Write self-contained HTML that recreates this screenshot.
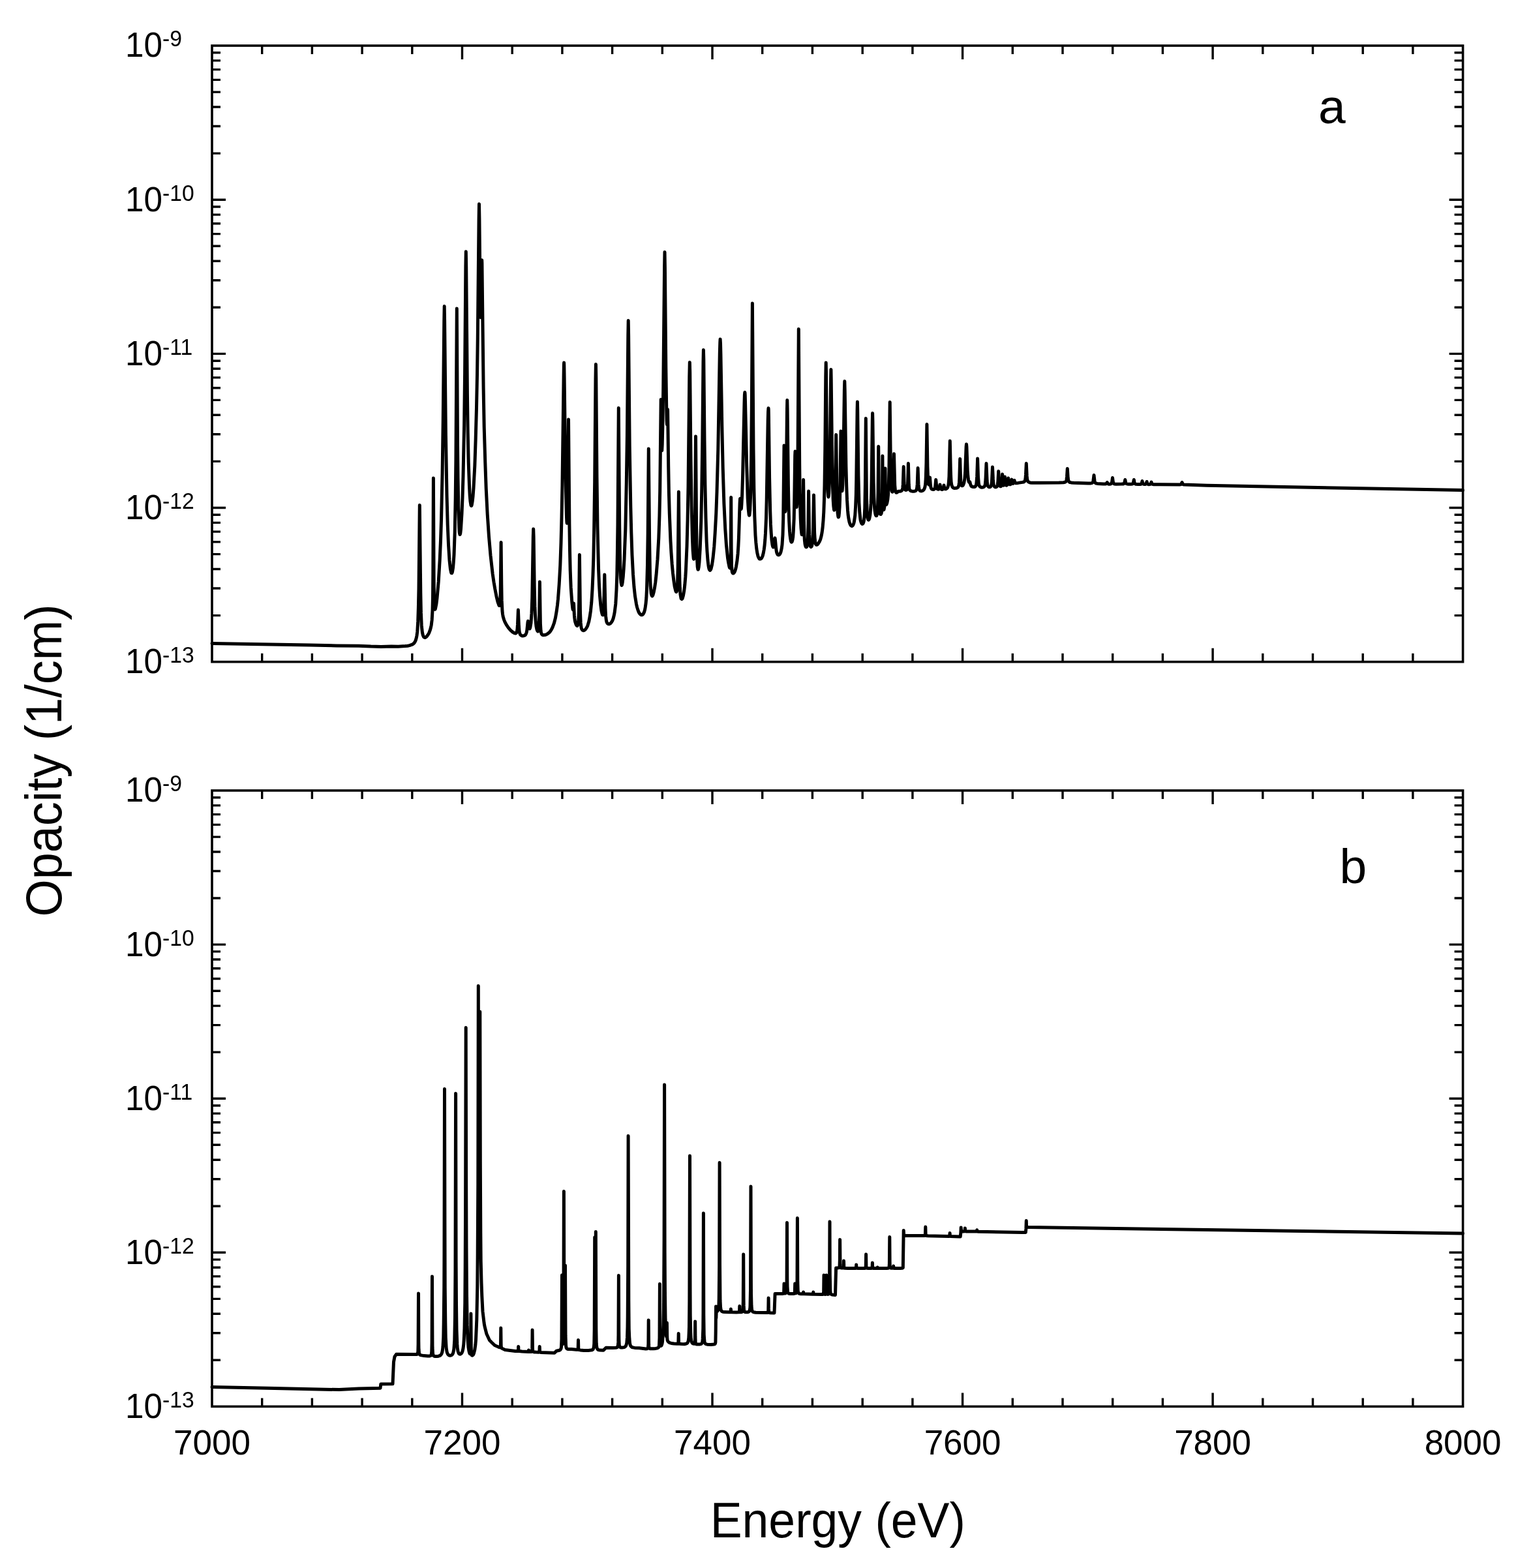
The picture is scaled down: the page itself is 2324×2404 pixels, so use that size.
<!DOCTYPE html><html><head><meta charset="utf-8"><style>html,body{margin:0;padding:0;background:#fff;}svg{display:block;}</style></head><body><svg width="2324" height="2404" viewBox="0 0 2324 2404">
<rect width="2324" height="2404" fill="#fff"/>
<path d="M325.0 943.6h13.0M2242.6 943.6h-13.0M325.0 902.0h13.0M2242.6 902.0h-13.0M325.0 872.5h13.0M2242.6 872.5h-13.0M325.0 849.6h13.0M2242.6 849.6h-13.0M325.0 830.9h13.0M2242.6 830.9h-13.0M325.0 815.1h13.0M2242.6 815.1h-13.0M325.0 801.4h13.0M2242.6 801.4h-13.0M325.0 789.3h13.0M2242.6 789.3h-13.0M325.0 778.5h21.0M2242.6 778.5h-21.0M325.0 707.4h13.0M2242.6 707.4h-13.0M325.0 665.8h13.0M2242.6 665.8h-13.0M325.0 636.3h13.0M2242.6 636.3h-13.0M325.0 613.4h13.0M2242.6 613.4h-13.0M325.0 594.7h13.0M2242.6 594.7h-13.0M325.0 578.9h13.0M2242.6 578.9h-13.0M325.0 565.2h13.0M2242.6 565.2h-13.0M325.0 553.2h13.0M2242.6 553.2h-13.0M325.0 542.4h21.0M2242.6 542.4h-21.0M325.0 471.3h13.0M2242.6 471.3h-13.0M325.0 429.7h13.0M2242.6 429.7h-13.0M325.0 400.2h13.0M2242.6 400.2h-13.0M325.0 377.3h13.0M2242.6 377.3h-13.0M325.0 358.6h13.0M2242.6 358.6h-13.0M325.0 342.8h13.0M2242.6 342.8h-13.0M325.0 329.1h13.0M2242.6 329.1h-13.0M325.0 317.0h13.0M2242.6 317.0h-13.0M325.0 306.2h21.0M2242.6 306.2h-21.0M325.0 235.1h13.0M2242.6 235.1h-13.0M325.0 193.5h13.0M2242.6 193.5h-13.0M325.0 164.0h13.0M2242.6 164.0h-13.0M325.0 141.1h13.0M2242.6 141.1h-13.0M325.0 122.4h13.0M2242.6 122.4h-13.0M325.0 106.6h13.0M2242.6 106.6h-13.0M325.0 92.9h13.0M2242.6 92.9h-13.0M325.0 80.8h13.0M2242.6 80.8h-13.0M401.7 1014.7v-13.0M401.7 70.0v13.0M478.4 1014.7v-13.0M478.4 70.0v13.0M555.1 1014.7v-13.0M555.1 70.0v13.0M631.8 1014.7v-13.0M631.8 70.0v13.0M708.5 1014.7v-21.0M708.5 70.0v21.0M785.2 1014.7v-13.0M785.2 70.0v13.0M861.9 1014.7v-13.0M861.9 70.0v13.0M938.6 1014.7v-13.0M938.6 70.0v13.0M1015.3 1014.7v-13.0M1015.3 70.0v13.0M1092.0 1014.7v-21.0M1092.0 70.0v21.0M1168.7 1014.7v-13.0M1168.7 70.0v13.0M1245.4 1014.7v-13.0M1245.4 70.0v13.0M1322.2 1014.7v-13.0M1322.2 70.0v13.0M1398.9 1014.7v-13.0M1398.9 70.0v13.0M1475.6 1014.7v-21.0M1475.6 70.0v21.0M1552.3 1014.7v-13.0M1552.3 70.0v13.0M1629.0 1014.7v-13.0M1629.0 70.0v13.0M1705.7 1014.7v-13.0M1705.7 70.0v13.0M1782.4 1014.7v-13.0M1782.4 70.0v13.0M1859.1 1014.7v-21.0M1859.1 70.0v21.0M1935.8 1014.7v-13.0M1935.8 70.0v13.0M2012.5 1014.7v-13.0M2012.5 70.0v13.0M2089.2 1014.7v-13.0M2089.2 70.0v13.0M2165.9 1014.7v-13.0M2165.9 70.0v13.0" stroke="#000" stroke-width="3.4" fill="none" stroke-linecap="butt"/>
<rect x="325.0" y="70.0" width="1917.6" height="944.7" fill="none" stroke="#000" stroke-width="3.6"/>
<text transform="translate(192 1032.1) scale(0.95 1)" font-size="54" font-family='"Liberation Sans", Arial, Helvetica, sans-serif'>10<tspan dy="-16" font-size="35.5">-13</tspan></text>
<text transform="translate(192 795.9) scale(0.95 1)" font-size="54" font-family='"Liberation Sans", Arial, Helvetica, sans-serif'>10<tspan dy="-16" font-size="35.5">-12</tspan></text>
<text transform="translate(192 559.8) scale(0.95 1)" font-size="54" font-family='"Liberation Sans", Arial, Helvetica, sans-serif'>10<tspan dy="-16" font-size="35.5">-11</tspan></text>
<text transform="translate(192 323.6) scale(0.95 1)" font-size="54" font-family='"Liberation Sans", Arial, Helvetica, sans-serif'>10<tspan dy="-16" font-size="35.5">-10</tspan></text>
<text transform="translate(192 87.4) scale(0.95 1)" font-size="54" font-family='"Liberation Sans", Arial, Helvetica, sans-serif'>10<tspan dy="-16" font-size="35.5">-9</tspan></text>
<text x="2021" y="189" font-size="75" font-family='"Liberation Sans", Arial, Helvetica, sans-serif'>a</text>
<path d="M325.0 2085.3h13.0M2242.6 2085.3h-13.0M325.0 2043.8h13.0M2242.6 2043.8h-13.0M325.0 2014.3h13.0M2242.6 2014.3h-13.0M325.0 1991.4h13.0M2242.6 1991.4h-13.0M325.0 1972.7h13.0M2242.6 1972.7h-13.0M325.0 1956.9h13.0M2242.6 1956.9h-13.0M325.0 1943.2h13.0M2242.6 1943.2h-13.0M325.0 1931.1h13.0M2242.6 1931.1h-13.0M325.0 1920.3h21.0M2242.6 1920.3h-21.0M325.0 1849.2h13.0M2242.6 1849.2h-13.0M325.0 1807.7h13.0M2242.6 1807.7h-13.0M325.0 1778.2h13.0M2242.6 1778.2h-13.0M325.0 1755.3h13.0M2242.6 1755.3h-13.0M325.0 1736.6h13.0M2242.6 1736.6h-13.0M325.0 1720.8h13.0M2242.6 1720.8h-13.0M325.0 1707.1h13.0M2242.6 1707.1h-13.0M325.0 1695.0h13.0M2242.6 1695.0h-13.0M325.0 1684.2h21.0M2242.6 1684.2h-21.0M325.0 1613.1h13.0M2242.6 1613.1h-13.0M325.0 1571.6h13.0M2242.6 1571.6h-13.0M325.0 1542.1h13.0M2242.6 1542.1h-13.0M325.0 1519.2h13.0M2242.6 1519.2h-13.0M325.0 1500.5h13.0M2242.6 1500.5h-13.0M325.0 1484.7h13.0M2242.6 1484.7h-13.0M325.0 1471.0h13.0M2242.6 1471.0h-13.0M325.0 1458.9h13.0M2242.6 1458.9h-13.0M325.0 1448.1h21.0M2242.6 1448.1h-21.0M325.0 1377.0h13.0M2242.6 1377.0h-13.0M325.0 1335.5h13.0M2242.6 1335.5h-13.0M325.0 1306.0h13.0M2242.6 1306.0h-13.0M325.0 1283.1h13.0M2242.6 1283.1h-13.0M325.0 1264.4h13.0M2242.6 1264.4h-13.0M325.0 1248.6h13.0M2242.6 1248.6h-13.0M325.0 1234.9h13.0M2242.6 1234.9h-13.0M325.0 1222.8h13.0M2242.6 1222.8h-13.0M401.7 2156.4v-13.0M401.7 1212.0v13.0M478.4 2156.4v-13.0M478.4 1212.0v13.0M555.1 2156.4v-13.0M555.1 1212.0v13.0M631.8 2156.4v-13.0M631.8 1212.0v13.0M708.5 2156.4v-21.0M708.5 1212.0v21.0M785.2 2156.4v-13.0M785.2 1212.0v13.0M861.9 2156.4v-13.0M861.9 1212.0v13.0M938.6 2156.4v-13.0M938.6 1212.0v13.0M1015.3 2156.4v-13.0M1015.3 1212.0v13.0M1092.0 2156.4v-21.0M1092.0 1212.0v21.0M1168.7 2156.4v-13.0M1168.7 1212.0v13.0M1245.4 2156.4v-13.0M1245.4 1212.0v13.0M1322.2 2156.4v-13.0M1322.2 1212.0v13.0M1398.9 2156.4v-13.0M1398.9 1212.0v13.0M1475.6 2156.4v-21.0M1475.6 1212.0v21.0M1552.3 2156.4v-13.0M1552.3 1212.0v13.0M1629.0 2156.4v-13.0M1629.0 1212.0v13.0M1705.7 2156.4v-13.0M1705.7 1212.0v13.0M1782.4 2156.4v-13.0M1782.4 1212.0v13.0M1859.1 2156.4v-21.0M1859.1 1212.0v21.0M1935.8 2156.4v-13.0M1935.8 1212.0v13.0M2012.5 2156.4v-13.0M2012.5 1212.0v13.0M2089.2 2156.4v-13.0M2089.2 1212.0v13.0M2165.9 2156.4v-13.0M2165.9 1212.0v13.0" stroke="#000" stroke-width="3.4" fill="none" stroke-linecap="butt"/>
<rect x="325.0" y="1212.0" width="1917.6" height="944.4" fill="none" stroke="#000" stroke-width="3.6"/>
<text transform="translate(192 2173.8) scale(0.95 1)" font-size="54" font-family='"Liberation Sans", Arial, Helvetica, sans-serif'>10<tspan dy="-16" font-size="35.5">-13</tspan></text>
<text transform="translate(192 1937.7) scale(0.95 1)" font-size="54" font-family='"Liberation Sans", Arial, Helvetica, sans-serif'>10<tspan dy="-16" font-size="35.5">-12</tspan></text>
<text transform="translate(192 1701.6) scale(0.95 1)" font-size="54" font-family='"Liberation Sans", Arial, Helvetica, sans-serif'>10<tspan dy="-16" font-size="35.5">-11</tspan></text>
<text transform="translate(192 1465.5) scale(0.95 1)" font-size="54" font-family='"Liberation Sans", Arial, Helvetica, sans-serif'>10<tspan dy="-16" font-size="35.5">-10</tspan></text>
<text transform="translate(192 1229.4) scale(0.95 1)" font-size="54" font-family='"Liberation Sans", Arial, Helvetica, sans-serif'>10<tspan dy="-16" font-size="35.5">-9</tspan></text>
<text x="2053.5" y="1354" font-size="75" font-family='"Liberation Sans", Arial, Helvetica, sans-serif'>b</text>
<text x="325.0" y="2230" font-size="53" text-anchor="middle" font-family='"Liberation Sans", Arial, Helvetica, sans-serif'>7000</text>
<text x="708.5" y="2230" font-size="53" text-anchor="middle" font-family='"Liberation Sans", Arial, Helvetica, sans-serif'>7200</text>
<text x="1092.0" y="2230" font-size="53" text-anchor="middle" font-family='"Liberation Sans", Arial, Helvetica, sans-serif'>7400</text>
<text x="1475.6" y="2230" font-size="53" text-anchor="middle" font-family='"Liberation Sans", Arial, Helvetica, sans-serif'>7600</text>
<text x="1859.1" y="2230" font-size="53" text-anchor="middle" font-family='"Liberation Sans", Arial, Helvetica, sans-serif'>7800</text>
<text x="2242.6" y="2230" font-size="53" text-anchor="middle" font-family='"Liberation Sans", Arial, Helvetica, sans-serif'>8000</text>
<text transform="translate(1284.3 2357) scale(0.955 1)" font-size="76.8" text-anchor="middle" font-family='"Liberation Sans", Arial, Helvetica, sans-serif'>Energy (eV)</text>
<text transform="translate(94 1166) rotate(-90) scale(0.955 1)" font-size="77.2" text-anchor="middle" font-family='"Liberation Sans", Arial, Helvetica, sans-serif'>Opacity (1/cm)</text>
<path d="M325.0 986.5 475.0 989.0 516.2 990.0 550.0 990.2 568.5 991.1 584.2 991.4 600.0 991.1 610.5 991.2 621.2 990.6 624.8 990.2 627.8 989.6 631.2 988.4 633.0 987.5 634.8 986.0 636.2 983.9 637.2 981.7 638.2 978.3 639.0 974.4 639.8 968.2 640.7 952.9 641.4 931.0 642.0 902.8 643.3 774.5 644.8 909.0 645.4 939.4 646.2 958.2 646.8 964.4 647.5 970.2 648.5 974.3 649.5 976.4 650.2 977.1 651.0 977.4 651.8 977.4 652.5 977.1 654.2 975.7 656.2 973.0 657.8 970.2 659.2 966.4 660.2 963.1 661.2 958.4 662.2 950.2 663.0 935.8 663.5 914.7 663.8 881.1 664.4 733.0 665.1 885.2 665.5 917.2 666.0 929.9 666.5 933.8 666.8 934.3 667.0 934.2 667.5 933.1 668.8 926.6 670.0 917.0 672.2 892.0 674.2 858.3 675.5 828.6 676.5 797.6 678.1 725.8 679.2 647.8 680.8 492.2 681.2 469.5 681.6 492.2 683.4 667.6 685.0 759.5 686.2 804.4 687.5 835.0 689.0 859.0 690.4 872.1 691.5 877.5 692.0 878.6 692.5 878.8 693.0 878.2 693.5 876.7 694.5 870.7 695.2 862.7 696.0 850.8 697.2 816.4 698.2 764.0 698.9 705.7 700.3 473.0 701.5 682.6 702.0 732.5 702.8 778.9 703.8 809.0 704.2 815.8 704.5 817.8 705.0 819.5 705.2 819.4 705.8 817.5 706.5 811.1 708.0 787.3 709.0 763.0 710.0 730.1 711.6 652.8 712.6 571.0 713.9 408.6 714.3 385.8 714.7 408.5 716.4 603.0 717.2 662.6 718.2 708.8 719.5 745.4 720.2 759.3 721.0 768.5 721.8 773.7 722.0 774.6 722.5 775.4 722.8 775.4 723.2 774.2 724.2 768.5 725.0 761.3 726.0 748.0 727.8 714.3 729.2 672.5 730.5 624.8 731.5 574.4 732.3 517.6 734.1 335.6 734.5 312.8 734.9 334.8 736.1 451.3 736.8 484.6 736.9 486.7 737.0 486.6 737.3 479.9 738.4 405.5 738.7 398.7 738.9 403.1 741.1 593.8 742.2 655.3 743.8 709.4 745.2 748.9 747.2 788.7 749.5 822.6 752.0 851.5 755.2 880.0 757.0 892.3 758.8 902.9 761.0 914.3 763.0 922.6 764.8 927.8 765.2 928.5 765.5 928.6 765.8 928.4 766.2 926.8 766.6 923.5 767.2 910.1 768.1 831.5 768.8 896.3 769.2 920.9 770.0 936.9 770.5 941.3 771.2 945.4 772.5 949.8 774.2 954.1 776.8 958.7 779.5 962.7 782.5 966.2 785.8 969.0 788.8 970.7 789.8 971.0 790.8 970.9 791.6 970.2 792.1 969.1 792.6 967.1 793.0 964.5 793.5 957.2 794.4 935.0 795.4 959.5 796.1 967.9 796.7 970.7 797.5 972.8 798.5 973.9 800.0 974.7 802.0 974.9 804.0 974.4 805.4 973.4 806.5 971.5 807.2 969.5 807.8 966.4 809.0 954.2 809.4 952.3 809.8 953.3 810.9 962.0 811.2 963.3 811.6 963.9 812.0 963.9 812.3 963.5 812.9 961.7 814.0 954.9 815.0 940.2 815.8 916.5 817.3 823.0 817.7 811.0 818.1 823.0 819.2 899.5 819.9 929.4 820.5 942.5 821.2 952.6 822.0 960.2 823.0 965.2 824.0 967.6 824.5 968.1 825.0 967.8 825.7 965.4 826.2 960.6 826.7 943.3 827.4 892.0 828.4 956.1 829.1 967.1 829.5 969.8 830.2 972.0 831.2 973.2 832.5 973.7 835.0 973.6 837.0 973.1 839.0 972.1 841.0 970.6 842.8 968.9 844.5 966.6 846.0 964.0 847.2 961.4 849.5 955.1 851.5 947.1 853.2 937.3 854.5 927.8 855.5 918.3 857.2 895.6 858.8 866.9 860.0 832.6 861.0 793.5 862.0 743.1 864.1 578.6 864.4 560.0 864.6 556.1 864.8 560.0 865.1 578.4 867.0 727.8 867.8 766.8 868.5 792.4 868.9 800.2 869.1 801.8 869.2 802.1 869.4 801.7 869.8 795.5 870.1 782.9 871.5 643.0 872.9 804.3 873.5 844.2 874.2 875.0 875.2 900.9 876.8 923.3 877.7 931.5 878.1 934.0 878.4 934.8 878.6 934.5 878.9 933.2 879.5 925.1 880.4 943.2 880.8 947.5 881.3 951.4 882.0 954.3 883.0 957.3 884.0 959.0 884.8 959.4 885.2 959.2 885.5 958.8 886.0 957.3 886.8 951.0 887.2 941.6 887.6 925.2 888.4 850.5 889.5 939.1 890.2 954.9 890.8 960.4 891.2 962.9 892.0 965.0 893.0 966.2 894.2 966.7 895.5 966.5 897.0 965.5 898.2 964.0 899.5 962.0 900.8 959.3 902.8 952.8 904.2 945.3 905.5 936.3 906.8 923.3 908.0 903.8 909.0 880.7 909.8 856.6 910.6 816.7 911.7 738.3 913.0 580.9 913.4 558.5 913.8 579.3 915.0 731.3 916.0 808.2 917.5 870.9 918.5 896.1 919.5 913.3 920.8 927.6 922.0 936.7 922.8 940.3 923.5 942.5 923.8 942.8 924.2 942.9 924.7 941.5 925.3 936.5 925.7 926.8 926.8 881.0 928.0 933.4 928.6 944.5 929.4 951.0 930.0 953.6 931.0 955.6 932.2 956.6 933.0 956.8 934.0 956.7 935.8 955.8 937.2 954.2 938.8 951.6 940.0 948.5 941.2 943.9 942.2 938.7 943.8 925.7 945.0 904.7 945.8 882.1 946.4 847.2 947.0 804.1 948.3 625.5 949.7 806.7 950.3 848.0 951.0 876.4 951.5 886.9 952.0 893.1 952.8 897.1 953.0 897.4 953.5 896.8 954.2 893.3 955.2 884.7 956.2 871.5 957.0 858.2 958.8 812.0 960.3 740.1 961.4 667.8 962.8 514.1 963.2 491.5 963.6 514.1 965.2 684.9 966.8 776.7 967.8 816.2 969.0 851.4 970.5 880.4 972.0 900.1 973.5 913.9 975.5 926.2 976.5 930.6 977.8 934.9 979.0 938.0 980.2 940.3 981.8 942.0 983.2 942.8 984.0 942.8 984.8 942.5 985.5 941.9 986.2 941.0 987.5 938.5 988.5 935.1 989.2 931.2 990.0 925.7 990.8 917.1 991.5 903.1 992.5 866.3 993.2 817.8 994.3 688.0 995.6 827.5 996.5 881.3 997.2 898.6 998.2 909.7 998.8 912.2 999.5 913.8 999.8 913.9 1000.2 913.6 1001.0 912.2 1002.2 907.8 1003.5 901.3 1004.8 892.6 1006.0 881.6 1008.0 857.4 1009.8 824.9 1010.9 791.9 1011.7 753.6 1013.2 612.5 1014.2 684.1 1014.4 688.8 1014.7 690.8 1015.2 681.3 1016.0 647.0 1016.8 592.4 1018.6 409.2 1019.0 386.5 1019.4 409.2 1020.8 563.6 1021.8 630.5 1022.1 644.7 1022.5 650.8 1022.8 647.8 1023.4 628.2 1023.4 627.5 1023.5 628.0 1023.6 629.7 1024.7 714.9 1025.4 755.1 1026.3 787.7 1028.0 830.1 1029.0 847.7 1030.2 864.9 1031.5 878.7 1032.8 889.6 1034.2 899.5 1035.8 905.9 1036.5 907.4 1037.0 907.4 1037.5 906.3 1037.8 905.0 1038.2 900.5 1038.6 894.1 1039.2 870.6 1040.4 754.0 1041.3 853.4 1041.9 890.6 1042.3 901.5 1043.0 911.3 1043.8 916.2 1044.2 917.8 1045.0 918.6 1045.8 918.1 1046.3 917.1 1047.5 912.8 1048.8 905.3 1049.8 896.6 1050.8 884.5 1051.5 872.6 1053.0 837.3 1054.1 796.2 1055.0 746.4 1056.8 577.8 1057.3 555.5 1057.7 570.3 1059.0 703.8 1060.1 776.0 1061.5 827.9 1062.2 844.6 1062.8 852.0 1063.2 856.3 1063.5 857.2 1063.8 857.1 1064.2 853.1 1064.7 842.6 1065.1 825.4 1065.6 784.7 1066.5 669.0 1067.6 806.4 1068.0 835.6 1068.5 855.4 1069.2 869.1 1069.8 872.6 1070.0 873.2 1070.2 873.3 1070.5 872.9 1071.2 869.2 1072.0 861.9 1073.2 841.7 1074.8 798.9 1075.8 749.2 1076.8 677.7 1078.0 554.7 1078.4 536.5 1078.8 551.3 1080.0 676.2 1080.9 743.0 1082.0 794.4 1083.2 831.4 1084.0 845.7 1085.0 858.9 1086.0 867.3 1086.5 870.1 1087.2 872.8 1087.8 873.9 1088.5 874.4 1089.2 873.7 1090.0 872.1 1091.5 865.9 1093.0 855.7 1094.8 838.0 1096.2 816.5 1097.8 787.0 1099.0 753.9 1100.8 688.5 1103.3 542.4 1103.8 524.9 1104.1 520.0 1104.5 526.4 1104.9 542.4 1106.8 653.6 1108.2 718.1 1109.9 772.2 1111.8 811.5 1113.5 836.3 1115.5 855.3 1116.8 863.3 1118.0 868.9 1118.5 870.3 1119.0 870.9 1119.2 870.5 1119.5 869.5 1120.0 862.4 1120.2 848.0 1120.7 762.6 1121.1 840.2 1121.5 866.7 1122.0 874.5 1122.5 877.2 1123.0 878.4 1123.5 879.0 1124.0 879.1 1124.8 878.7 1125.8 877.5 1126.8 875.2 1127.8 872.0 1128.5 868.7 1130.0 859.5 1131.1 848.9 1131.9 836.6 1132.5 823.9 1134.1 771.6 1134.5 764.9 1134.6 764.5 1134.9 766.1 1135.6 777.4 1136.0 780.2 1136.1 780.4 1136.2 780.3 1136.5 779.1 1136.9 773.3 1137.7 757.8 1138.5 732.4 1141.0 618.8 1141.4 605.2 1141.8 601.5 1142.0 602.4 1142.2 605.2 1142.5 615.5 1144.7 714.8 1146.2 763.5 1147.2 780.6 1148.1 789.0 1148.5 790.2 1148.8 790.1 1149.0 789.3 1149.8 781.7 1150.8 754.9 1151.7 695.6 1152.3 628.4 1153.4 465.0 1155.0 688.9 1155.8 748.0 1156.8 791.2 1158.0 820.6 1158.8 831.4 1159.8 841.2 1160.8 847.6 1162.0 852.7 1162.8 854.6 1163.5 856.0 1164.2 856.8 1165.0 857.1 1165.5 857.1 1166.8 856.5 1168.0 854.9 1169.2 852.0 1170.2 848.2 1171.2 842.6 1172.0 836.7 1172.8 827.8 1173.5 817.2 1174.5 794.4 1175.2 767.2 1177.2 645.1 1177.6 631.0 1178.0 625.8 1178.2 628.3 1178.4 638.3 1179.6 732.7 1180.7 783.6 1181.4 803.9 1182.2 817.3 1183.0 828.0 1184.0 835.1 1184.5 837.3 1185.0 838.6 1185.4 838.9 1185.9 838.4 1186.5 835.6 1187.6 826.3 1188.0 824.8 1188.4 827.2 1189.7 841.2 1190.4 845.8 1191.0 848.0 1191.7 849.6 1192.5 850.6 1193.5 850.9 1194.5 850.6 1195.5 849.5 1196.2 848.2 1197.0 846.3 1198.2 840.9 1199.0 835.1 1200.0 819.8 1200.7 795.3 1202.0 683.0 1203.2 774.6 1203.5 782.1 1203.8 784.5 1204.1 782.2 1204.5 774.1 1205.4 731.3 1206.5 627.0 1206.8 613.5 1207.1 627.1 1208.4 744.3 1209.0 775.9 1209.7 798.8 1210.5 814.4 1211.0 820.5 1211.8 826.5 1212.5 829.8 1213.2 831.2 1213.8 831.1 1214.2 830.4 1215.0 827.6 1215.7 822.9 1216.2 815.8 1217.2 794.9 1217.8 764.1 1218.7 698.9 1219.0 692.0 1219.3 698.0 1220.1 751.7 1220.6 770.9 1220.9 776.5 1221.1 777.5 1221.3 777.4 1221.7 772.6 1222.0 763.8 1222.6 735.0 1223.1 690.7 1224.3 504.5 1225.7 711.8 1226.2 755.1 1227.2 794.9 1228.0 809.7 1228.8 817.6 1229.2 819.8 1229.5 819.8 1229.8 818.6 1230.1 816.0 1230.8 796.6 1231.6 735.5 1232.4 798.9 1233.0 820.9 1233.4 828.3 1234.0 833.7 1234.5 836.3 1235.0 837.8 1235.5 838.6 1236.0 838.9 1236.5 838.6 1236.8 838.2 1237.5 835.5 1238.0 831.1 1238.4 825.0 1238.9 806.3 1239.6 753.0 1240.6 819.4 1241.2 831.5 1241.8 835.5 1242.2 837.5 1242.8 838.3 1243.2 838.6 1244.0 838.0 1244.5 836.9 1245.3 833.5 1245.9 827.4 1246.6 808.5 1247.5 759.0 1248.6 816.3 1249.2 826.7 1250.0 832.7 1250.5 834.2 1251.0 834.9 1251.5 835.3 1252.2 835.2 1253.2 834.7 1254.2 833.6 1256.2 830.4 1257.8 826.7 1259.0 822.2 1260.0 817.1 1261.0 809.7 1262.0 798.3 1262.8 785.1 1263.4 768.1 1264.0 744.2 1264.8 689.4 1265.8 577.1 1266.2 556.0 1266.5 569.9 1267.4 667.1 1267.9 712.0 1268.6 744.0 1269.0 753.0 1269.5 760.0 1269.8 761.5 1270.0 761.8 1270.2 760.9 1270.7 756.4 1271.2 744.6 1271.8 726.8 1272.4 688.2 1273.6 580.2 1273.9 566.5 1274.2 582.0 1275.7 711.8 1276.4 743.5 1277.2 766.6 1277.8 775.6 1278.5 781.5 1278.8 782.1 1279.0 781.8 1279.2 780.6 1279.9 772.5 1280.6 744.4 1281.7 666.5 1282.8 743.6 1283.2 768.0 1284.1 786.4 1284.8 791.8 1285.2 793.0 1285.5 792.8 1285.8 792.1 1286.0 791.0 1286.5 786.3 1287.1 777.3 1287.5 766.0 1288.0 739.8 1289.0 661.0 1290.3 744.3 1290.6 750.7 1291.0 752.8 1291.3 750.4 1291.8 743.3 1292.4 725.5 1292.9 701.6 1294.4 598.0 1294.8 584.5 1295.2 599.6 1296.9 714.6 1297.7 744.6 1298.5 766.2 1299.5 782.2 1300.2 789.9 1301.0 795.3 1302.0 800.2 1303.0 803.3 1304.2 805.5 1305.5 806.4 1306.2 806.4 1306.8 806.1 1307.8 804.9 1308.8 802.4 1309.5 799.4 1310.8 789.8 1311.6 776.3 1312.3 759.0 1312.8 734.2 1314.1 628.9 1314.4 616.0 1314.7 628.8 1315.9 729.4 1316.9 770.3 1317.8 785.3 1318.8 794.9 1319.2 797.8 1320.0 800.6 1320.8 802.4 1321.8 803.4 1322.5 803.2 1323.2 802.3 1324.0 800.1 1324.5 797.5 1325.2 789.8 1325.8 779.0 1326.4 742.9 1327.3 641.5 1328.4 761.2 1329.1 783.1 1329.5 789.6 1330.0 793.8 1330.8 796.6 1331.0 797.0 1331.5 797.2 1332.3 796.2 1333.0 793.9 1333.8 789.7 1334.2 785.4 1335.2 771.7 1335.8 755.0 1336.2 732.8 1337.3 645.7 1337.6 633.5 1337.9 645.6 1339.1 740.0 1339.8 762.9 1340.6 778.2 1341.0 782.6 1341.8 787.5 1342.3 789.5 1343.0 790.7 1343.5 790.8 1343.8 790.6 1344.5 788.7 1345.3 781.9 1345.7 771.9 1346.0 756.8 1346.7 684.5 1347.3 749.9 1347.8 773.7 1348.2 782.0 1348.8 786.5 1349.0 787.5 1349.5 788.5 1349.8 788.6 1350.2 788.5 1351.0 787.3 1351.5 785.4 1352.0 780.5 1352.2 774.9 1352.5 754.3 1352.9 699.1 1353.3 762.0 1353.6 773.9 1354.0 780.1 1354.5 781.7 1354.8 781.7 1355.0 781.4 1355.2 780.6 1355.8 777.5 1356.1 772.6 1356.5 757.6 1357.0 718.1 1357.5 758.7 1358.0 771.5 1358.2 772.9 1358.5 773.5 1358.8 773.6 1359.2 772.8 1359.8 771.2 1360.8 766.1 1361.5 759.1 1362.3 744.8 1362.9 721.6 1364.2 616.5 1365.2 700.2 1365.7 727.1 1366.5 746.7 1367.0 751.6 1367.2 753.0 1367.8 754.3 1368.0 754.3 1368.2 753.9 1368.7 751.9 1369.3 743.1 1370.5 695.8 1371.7 743.6 1372.4 751.5 1372.9 753.8 1373.5 755.0 1374.0 755.3 1374.8 755.2 1375.8 754.5 1377.0 753.2 1379.5 753.3 1381.5 752.8 1382.8 751.7 1383.4 750.2 1383.9 747.3 1384.3 742.2 1385.2 715.5 1386.0 740.0 1386.6 747.6 1387.2 750.1 1388.0 751.2 1388.8 751.4 1389.5 751.3 1390.0 750.9 1390.5 750.0 1391.1 747.1 1391.6 741.3 1392.4 710.5 1393.3 743.1 1393.8 748.6 1394.2 750.4 1394.8 751.5 1395.8 752.4 1397.0 752.9 1398.8 753.2 1401.2 753.2 1402.8 752.9 1403.8 752.4 1404.5 751.6 1405.0 750.6 1405.7 747.5 1406.2 742.2 1407.1 717.5 1408.0 742.2 1408.5 747.1 1409.1 750.1 1409.5 751.2 1410.2 752.2 1411.2 752.7 1412.6 752.9 1413.8 752.5 1415.0 751.9 1416.0 751.0 1416.8 749.9 1417.8 747.2 1418.5 743.4 1419.0 737.8 1419.4 729.9 1420.0 709.6 1420.9 650.5 1421.9 715.1 1422.4 729.1 1422.9 738.0 1423.5 742.4 1423.9 743.3 1424.1 743.3 1424.2 743.1 1424.7 740.9 1425.5 732.0 1426.4 743.4 1427.0 747.3 1427.5 748.7 1428.1 749.6 1428.8 750.1 1430.0 750.5 1431.2 750.5 1432.1 750.1 1432.8 749.4 1433.2 748.2 1433.8 745.2 1434.7 735.5 1435.9 747.0 1436.5 749.0 1437.4 750.0 1438.0 750.2 1438.8 750.2 1439.3 749.9 1439.7 749.3 1440.2 747.7 1441.0 743.0 1442.1 749.0 1442.7 750.0 1443.5 750.5 1444.8 750.4 1445.8 749.5 1446.2 748.0 1447.0 744.0 1447.9 748.5 1448.4 749.3 1448.9 749.7 1450.0 749.7 1451.5 748.9 1452.5 747.7 1453.2 746.0 1453.9 743.5 1454.3 740.3 1455.0 730.3 1456.3 676.0 1457.3 721.3 1457.7 731.9 1458.1 738.6 1458.8 743.3 1459.8 746.3 1461.0 747.8 1462.0 748.2 1463.0 748.5 1466.0 748.3 1468.0 747.6 1468.8 746.8 1469.2 746.0 1470.0 743.6 1470.4 739.9 1470.8 733.7 1471.7 703.5 1472.5 732.0 1472.8 737.9 1473.2 741.6 1474.0 744.2 1474.5 744.7 1475.2 744.8 1475.8 744.5 1476.5 743.6 1477.7 740.5 1478.8 734.5 1479.6 724.8 1481.1 685.1 1481.5 680.9 1481.9 685.1 1483.2 721.6 1483.8 729.6 1484.5 735.4 1484.9 737.7 1485.4 739.0 1485.8 739.4 1486.5 738.7 1486.8 738.9 1487.8 743.0 1488.6 744.8 1489.2 745.5 1490.1 746.0 1492.2 746.6 1494.2 746.4 1495.5 745.4 1496.4 743.6 1496.9 740.8 1497.7 730.4 1498.6 703.0 1499.5 730.6 1500.3 740.9 1500.9 744.0 1501.8 745.7 1503.0 746.7 1505.0 747.2 1507.2 747.0 1508.8 746.3 1509.6 745.0 1510.3 742.7 1511.0 735.0 1512.0 710.5 1513.1 737.0 1513.6 741.9 1514.3 744.8 1514.8 745.6 1515.5 746.4 1516.2 746.7 1517.2 746.8 1518.0 746.5 1518.8 745.9 1519.6 743.8 1520.1 741.3 1520.5 737.0 1521.5 716.0 1522.4 734.9 1523.0 742.0 1523.5 744.3 1524.2 745.7 1525.0 746.5 1526.3 746.9 1527.5 746.6 1528.2 745.9 1528.9 744.7 1529.3 742.9 1529.9 737.6 1530.7 722.5 1531.8 741.0 1532.5 744.3 1532.9 745.2 1533.5 745.8 1534.2 745.7 1534.7 745.3 1535.2 744.4 1535.5 742.9 1535.9 739.1 1536.6 727.1 1537.4 740.6 1537.8 743.1 1538.1 743.9 1538.5 744.2 1538.8 744.1 1539.1 743.7 1539.6 741.6 1540.5 731.1 1541.5 741.7 1542.0 743.5 1542.7 744.2 1543.2 744.1 1543.7 743.7 1544.5 742.1 1545.7 733.0 1546.8 740.9 1547.3 742.3 1548.1 742.8 1548.7 742.8 1549.2 742.5 1549.9 741.4 1550.3 739.8 1551.0 735.1 1551.9 740.1 1552.2 741.0 1552.8 741.4 1553.4 741.1 1554.0 740.4 1555.0 736.5 1556.0 739.8 1556.4 740.4 1557.1 740.7 1560.8 740.4 1567.5 739.4 1569.2 739.0 1570.2 738.4 1570.9 737.7 1571.4 736.6 1572.1 732.8 1572.5 727.4 1573.3 710.5 1574.2 729.9 1574.6 734.0 1575.2 736.6 1575.9 738.2 1577.0 739.2 1579.0 739.9 1582.0 740.2 1594.2 740.3 1623.5 740.0 1630.2 739.7 1632.8 739.3 1633.5 738.8 1634.2 738.1 1634.6 737.0 1635.0 735.4 1635.5 731.0 1636.3 718.5 1637.2 732.7 1637.7 735.8 1638.2 737.6 1639.0 738.8 1640.2 739.5 1642.2 739.9 1645.8 740.2 1668.2 740.9 1672.2 740.9 1674.0 740.6 1675.1 739.8 1675.8 738.1 1677.0 728.5 1678.0 737.4 1678.5 739.3 1679.2 740.4 1680.2 741.0 1682.2 741.4 1691.5 742.0 1694.2 742.1 1695.6 741.8 1696.4 741.2 1697.2 739.5 1698.1 741.4 1699.0 742.1 1700.0 742.3 1701.2 742.2 1702.5 742.0 1703.3 741.6 1704.0 740.8 1704.5 739.5 1705.5 732.5 1706.3 738.6 1707.0 740.8 1707.5 741.5 1708.2 741.9 1711.0 742.2 1719.5 742.1 1721.5 742.0 1722.7 741.7 1723.4 741.1 1723.8 740.1 1724.8 735.5 1725.8 740.1 1726.2 741.1 1726.8 741.6 1728.0 742.0 1730.2 742.2 1733.8 742.2 1735.7 742.0 1736.6 741.5 1737.2 740.6 1738.3 735.5 1739.1 739.9 1739.9 741.5 1740.4 742.0 1741.2 742.3 1744.5 742.6 1747.8 742.6 1748.7 742.4 1749.4 742.1 1750.2 740.8 1751.0 737.5 1751.8 740.6 1752.2 741.7 1753.1 742.4 1754.5 742.6 1755.9 742.5 1756.8 741.9 1757.2 741.1 1758.0 738.5 1758.8 741.1 1759.2 741.9 1760.0 742.5 1761.2 742.7 1762.8 742.6 1763.7 742.1 1764.2 741.3 1765.0 739.0 1765.8 741.4 1766.6 742.3 1768.0 742.7 1771.2 742.8 1809.0 742.9 1810.1 742.7 1810.8 742.2 1812.0 739.5 1813.2 742.3 1814.0 742.8 1815.2 743.0 1850.0 744.3 2242.5 751.6" stroke="#000" stroke-width="5" fill="none" stroke-linejoin="round" stroke-linecap="round"/>
<path d="M325.0 2126.6 410.0 2128.2 520.0 2130.6 550.0 2129.0 583.0 2128.3 583.8 2122.0 602.0 2121.8 603.5 2088.0 605.0 2080.0 607.5 2076.3 636.0 2076.4 638.2 2076.6 639.5 2076.3 640.2 2075.3 640.8 2072.2 641.1 2060.2 641.5 1983.0 641.8 2056.7 642.0 2068.3 642.5 2074.6 643.0 2076.3 644.0 2077.3 646.0 2077.9 650.0 2078.6 655.8 2079.0 658.8 2079.0 660.2 2078.5 661.0 2077.4 661.5 2075.0 661.8 2071.8 662.1 2058.3 662.5 1957.0 662.9 2051.3 663.0 2065.9 663.5 2075.1 664.0 2077.6 664.5 2078.5 665.2 2079.0 666.5 2079.4 669.5 2079.5 672.2 2079.2 674.5 2078.4 676.0 2077.1 677.0 2075.4 677.8 2073.2 678.5 2069.3 679.0 2064.6 679.8 2050.3 680.2 2028.0 680.8 1974.3 681.0 1922.3 681.5 1669.5 681.9 1873.6 682.2 1974.2 682.8 2028.0 683.2 2050.3 683.8 2061.2 684.2 2067.2 684.8 2070.8 685.2 2073.1 686.0 2075.2 687.0 2076.8 688.5 2078.0 690.2 2078.3 692.0 2077.9 693.0 2077.1 694.0 2075.7 694.8 2073.8 695.2 2071.8 695.8 2068.7 696.2 2063.7 696.8 2054.6 697.5 2020.0 698.0 1949.0 698.6 1676.5 699.1 1935.5 699.5 2000.0 700.0 2038.8 700.8 2060.4 701.2 2066.6 702.0 2071.5 703.0 2074.5 703.5 2075.3 704.2 2075.9 705.0 2076.2 706.0 2076.0 707.0 2075.3 707.8 2074.5 709.0 2071.8 710.0 2067.3 710.8 2061.1 711.2 2054.5 712.0 2036.8 712.8 1997.8 713.2 1941.4 713.6 1855.0 714.2 1575.5 714.6 1799.4 715.0 1914.8 715.5 1984.9 716.2 2031.9 717.0 2052.7 718.0 2065.7 718.8 2070.7 719.5 2073.7 720.0 2075.0 720.5 2075.7 720.8 2075.7 721.0 2075.3 721.4 2072.0 721.6 2063.8 721.9 2014.0 722.2 2059.3 722.4 2073.3 722.8 2076.4 723.2 2077.8 723.8 2078.2 724.2 2078.1 725.5 2077.0 726.5 2074.7 727.8 2069.3 728.8 2062.2 729.5 2054.0 730.8 2023.3 731.8 1972.6 732.2 1920.8 732.8 1815.9 733.3 1511.5 733.7 1771.0 734.2 1881.9 734.5 1894.3 734.8 1887.0 735.2 1820.0 735.8 1551.0 736.3 1781.4 736.8 1889.3 737.2 1934.0 738.0 1966.3 738.8 1987.1 740.0 2010.7 742.0 2027.7 742.5 2031.1 743.5 2035.7 746.0 2045.3 750.4 2054.8 753.8 2058.2 758.3 2062.5 765.0 2065.6 766.2 2065.9 766.8 2065.8 767.2 2064.5 767.5 2061.2 767.8 2036.0 768.1 2059.4 768.2 2063.7 768.5 2065.8 768.8 2066.5 769.5 2067.3 774.1 2069.4 790.0 2071.4 793.8 2071.5 794.2 2071.1 794.4 2070.3 794.7 2064.5 795.0 2070.4 795.2 2071.2 795.8 2071.6 800.2 2072.0 809.8 2072.4 810.2 2072.0 810.5 2070.0 810.7 2071.8 811.0 2072.4 813.2 2072.6 814.8 2072.4 815.2 2071.8 815.5 2070.8 815.8 2067.4 816.1 2039.0 816.5 2067.8 816.8 2071.1 817.0 2072.0 817.5 2072.5 818.8 2072.9 821.6 2073.1 825.5 2073.2 826.5 2073.0 826.8 2072.5 826.9 2071.4 827.2 2064.5 827.6 2072.2 828.0 2073.1 828.8 2073.4 850.0 2074.3 853.0 2071.2 857.5 2070.2 858.8 2069.5 859.5 2068.7 860.0 2067.7 860.5 2065.2 861.0 2053.3 861.5 1955.0 861.9 2046.2 862.2 2059.3 862.5 2061.0 862.8 2060.6 863.2 2055.0 863.5 2047.6 863.9 2019.1 864.4 1826.5 864.8 1989.4 865.2 2043.8 865.5 2050.8 865.8 2052.1 866.1 2040.3 866.5 1940.0 867.0 2047.7 867.5 2062.9 867.8 2064.8 868.2 2066.6 869.2 2068.0 871.0 2068.6 876.0 2068.5 883.5 2069.3 885.5 2069.3 886.0 2068.6 886.2 2066.9 886.5 2054.5 886.8 2067.3 887.0 2068.7 887.2 2069.2 887.8 2069.6 889.5 2069.9 895.0 2070.5 902.0 2070.4 905.8 2070.1 907.5 2069.7 908.8 2069.0 909.5 2068.0 910.0 2066.6 910.5 2063.4 910.8 2060.0 911.2 2038.1 911.7 1897.0 912.1 2024.8 912.2 2039.5 912.5 2045.6 912.7 2038.6 913.0 2002.0 913.3 1888.5 913.8 2036.9 914.2 2059.2 914.5 2062.9 915.0 2066.4 915.8 2068.3 916.5 2069.1 917.2 2069.5 919.8 2070.1 925.0 2070.3 929.0 2066.3 939.5 2066.4 944.2 2066.2 946.0 2065.8 946.5 2065.4 947.0 2064.5 947.5 2061.8 947.8 2057.9 948.0 2047.1 948.4 1955.5 948.7 2038.7 948.9 2053.6 949.2 2061.3 949.5 2063.3 950.0 2064.9 950.5 2065.5 951.5 2065.9 954.0 2066.0 956.8 2065.6 958.2 2064.8 959.5 2063.3 960.2 2061.3 960.8 2058.8 961.5 2050.4 962.0 2034.9 962.2 2018.3 962.7 1940.4 963.1 1741.5 963.8 1995.0 964.2 2037.3 964.8 2051.3 965.5 2059.2 966.2 2062.3 967.0 2063.9 968.2 2065.1 970.0 2065.9 973.0 2066.4 980.0 2066.8 990.0 2068.0 992.0 2067.8 993.0 2067.3 993.5 2065.9 993.9 2060.7 994.2 2024.0 994.5 2058.3 994.7 2063.7 995.0 2066.3 995.5 2067.3 996.2 2067.7 998.0 2067.8 1001.8 2067.7 1005.2 2067.4 1007.5 2067.0 1009.0 2066.3 1009.8 2065.5 1010.2 2064.2 1010.5 2062.6 1011.0 2051.1 1011.4 1968.5 1011.7 2033.3 1011.9 2055.2 1012.2 2061.3 1012.5 2062.7 1013.0 2063.5 1013.5 2063.4 1014.0 2062.8 1015.0 2060.1 1015.5 2057.0 1016.5 2045.2 1017.0 2032.2 1017.5 2005.0 1018.1 1901.0 1018.6 1663.0 1019.1 1920.8 1019.5 1984.0 1020.0 2021.1 1020.8 2041.2 1021.5 2048.6 1021.9 2049.6 1022.1 2047.4 1022.4 2028.0 1022.7 2049.2 1022.9 2052.8 1023.2 2054.9 1024.0 2056.6 1025.2 2057.9 1027.0 2058.8 1029.2 2059.4 1033.0 2059.9 1037.5 2060.3 1039.0 2060.2 1039.5 2059.8 1039.8 2058.8 1039.9 2056.8 1040.2 2044.5 1040.5 2058.0 1040.8 2059.5 1041.0 2060.0 1041.5 2060.3 1044.5 2060.6 1049.2 2060.7 1051.5 2060.3 1053.0 2059.7 1054.0 2058.7 1054.8 2057.1 1055.2 2055.2 1055.8 2051.4 1056.2 2042.9 1056.5 2034.1 1056.9 1993.9 1057.5 1772.0 1058.0 1977.8 1058.2 2017.5 1058.8 2043.0 1059.2 2051.5 1059.8 2055.2 1060.2 2057.2 1061.0 2058.7 1062.2 2059.9 1063.8 2060.3 1064.2 2060.3 1064.8 2059.9 1065.2 2058.2 1065.4 2054.0 1065.7 2026.0 1065.9 2049.9 1066.2 2057.7 1066.5 2059.7 1066.8 2060.3 1067.2 2060.7 1068.5 2061.0 1071.0 2061.1 1073.2 2060.9 1074.5 2060.6 1075.5 2060.0 1076.0 2059.4 1076.5 2058.1 1077.0 2055.4 1077.2 2052.7 1077.8 2036.8 1078.0 2012.4 1078.4 1860.0 1078.8 2016.8 1079.2 2046.1 1079.8 2055.1 1080.2 2058.0 1081.0 2059.8 1082.2 2060.7 1084.0 2061.2 1090.0 2061.5 1095.0 2061.0 1096.0 2060.6 1096.5 2059.9 1096.9 2057.7 1097.2 2040.9 1097.5 2003.0 1097.8 2020.9 1098.2 2010.0 1098.5 2010.5 1099.0 2010.7 1099.8 2010.3 1100.2 2009.8 1101.0 2008.1 1101.5 2005.6 1102.0 1999.1 1102.2 1991.4 1102.7 1940.3 1103.1 1782.5 1103.5 1940.3 1104.0 1993.4 1104.5 2003.7 1105.2 2008.3 1106.0 2009.9 1106.8 2010.6 1108.2 2011.2 1110.5 2011.6 1117.5 2011.8 1119.8 2011.7 1120.1 2010.7 1120.4 2007.0 1120.7 2010.9 1120.9 2011.5 1121.2 2011.8 1128.8 2012.0 1132.8 2011.8 1133.2 2011.4 1133.5 2010.3 1133.8 2002.5 1134.0 2009.5 1134.3 2011.4 1135.0 2011.8 1137.0 2011.7 1138.0 2011.1 1138.5 2010.2 1139.0 2006.8 1139.3 1995.3 1139.7 1923.0 1140.0 1990.3 1140.2 2001.9 1140.5 2008.0 1140.8 2009.6 1141.2 2010.9 1142.0 2011.5 1143.2 2011.8 1145.8 2011.8 1147.5 2011.3 1148.5 2010.5 1149.2 2008.7 1149.8 2005.4 1150.0 2001.8 1150.5 1977.8 1151.0 1819.0 1151.4 1962.1 1151.5 1981.9 1152.0 2001.8 1152.5 2007.5 1153.0 2009.6 1153.5 2010.5 1154.2 2011.3 1155.2 2011.7 1158.5 2012.2 1175.0 2012.6 1176.5 2012.5 1177.2 2012.1 1177.6 2010.8 1177.8 2008.1 1178.1 1990.0 1178.4 2006.9 1178.8 2011.6 1179.2 2012.4 1180.0 2012.7 1187.0 2013.0 1188.1 1983.5 1199.2 1983.5 1200.8 1983.3 1201.2 1982.9 1201.6 1982.0 1201.7 1979.9 1202.0 1968.0 1202.2 1978.8 1202.5 1982.3 1203.0 1983.0 1204.0 1982.9 1204.8 1982.4 1205.2 1981.2 1205.8 1977.3 1206.1 1963.7 1206.5 1874.5 1206.8 1959.8 1207.0 1972.3 1207.5 1980.0 1207.8 1981.3 1208.2 1982.4 1208.8 1982.9 1209.5 1983.3 1211.5 1983.5 1214.8 1983.6 1216.8 1983.5 1217.8 1983.2 1218.2 1982.4 1218.4 1980.5 1218.7 1968.0 1218.9 1978.4 1219.1 1981.9 1219.5 1982.8 1220.0 1982.9 1220.5 1982.5 1221.0 1981.6 1221.5 1978.8 1221.8 1974.6 1222.0 1963.1 1222.4 1867.5 1222.8 1965.2 1223.2 1978.3 1223.5 1980.4 1224.0 1982.2 1224.8 1983.1 1225.8 1983.5 1228.0 1983.7 1230.8 1983.8 1231.1 1983.6 1231.3 1983.3 1231.6 1981.0 1231.9 1983.3 1232.1 1983.7 1232.5 1983.8 1245.8 1984.2 1246.2 1984.0 1246.5 1983.7 1246.8 1981.0 1247.1 1983.7 1247.3 1984.0 1247.8 1984.2 1259.0 1984.6 1260.8 1984.6 1261.8 1984.3 1262.2 1983.6 1262.4 1982.7 1262.7 1980.1 1263.0 1955.0 1263.2 1975.5 1263.5 1982.0 1263.8 1983.6 1264.0 1984.1 1264.8 1984.5 1265.8 1984.3 1266.2 1983.6 1266.4 1982.8 1266.7 1980.1 1267.0 1955.0 1267.2 1976.3 1267.5 1982.5 1267.8 1983.6 1268.0 1984.1 1268.5 1984.4 1269.8 1984.2 1270.5 1983.3 1271.0 1981.2 1271.2 1978.5 1271.6 1966.6 1272.0 1873.0 1272.3 1955.1 1272.8 1978.5 1273.2 1982.7 1274.0 1984.2 1274.8 1984.7 1275.8 1985.0 1280.5 1985.4 1281.6 1943.9 1284.8 1943.9 1286.0 1943.7 1286.5 1943.3 1286.8 1942.7 1287.1 1940.7 1287.4 1931.0 1287.6 1900.5 1288.0 1938.2 1288.2 1941.8 1288.5 1942.9 1288.8 1943.4 1289.2 1943.8 1290.2 1944.1 1292.0 1944.1 1292.5 1944.0 1293.0 1943.5 1293.3 1941.3 1293.5 1933.0 1293.8 1942.6 1294.0 1943.6 1294.2 1943.9 1294.8 1944.2 1300.0 1944.5 1311.8 1944.4 1312.2 1944.1 1312.4 1943.5 1312.7 1939.0 1313.0 1943.4 1313.2 1944.0 1313.5 1944.3 1315.2 1944.5 1323.8 1944.5 1325.8 1944.4 1326.5 1944.1 1327.0 1943.1 1327.3 1940.8 1327.6 1923.0 1327.9 1940.8 1328.1 1943.0 1328.8 1944.2 1330.0 1944.4 1334.0 1944.5 1336.0 1944.4 1336.8 1944.1 1337.1 1942.4 1337.4 1936.0 1337.7 1943.1 1338.0 1944.1 1338.5 1944.4 1344.5 1944.5 1344.9 1944.2 1345.2 1943.0 1345.5 1944.2 1346.2 1944.5 1359.5 1944.5 1361.2 1944.3 1362.2 1944.0 1362.8 1943.5 1363.0 1942.7 1363.4 1937.8 1363.8 1896.5 1364.1 1934.5 1364.3 1940.6 1364.8 1943.2 1365.2 1944.0 1366.0 1944.3 1369.0 1944.3 1369.4 1943.6 1369.7 1941.0 1370.0 1943.8 1370.2 1944.2 1370.5 1944.4 1380.0 1944.5 1383.2 1944.3 1384.3 1943.8 1385.2 1886.5 1385.6 1893.0 1386.0 1894.0 1386.5 1894.3 1417.2 1894.5 1418.0 1894.2 1418.4 1892.8 1418.8 1881.0 1419.1 1892.5 1419.3 1893.7 1420.0 1894.5 1422.8 1894.7 1455.0 1895.4 1455.5 1895.2 1455.8 1894.6 1456.1 1890.5 1456.4 1894.6 1456.6 1895.1 1457.0 1895.4 1470.8 1895.9 1472.2 1895.9 1472.9 1889.8 1473.2 1882.0 1473.6 1887.2 1474.0 1887.8 1474.8 1887.9 1478.0 1887.9 1478.9 1887.7 1479.2 1886.7 1479.4 1883.0 1479.7 1887.2 1480.0 1887.7 1480.8 1887.9 1496.8 1888.1 1497.2 1888.0 1497.4 1887.7 1497.7 1885.8 1498.1 1887.9 1498.5 1888.1 1499.2 1888.2 1566.8 1889.6 1572.0 1889.6 1572.3 1889.5 1572.9 1883.7 1573.3 1871.5 1573.5 1878.5 1573.8 1880.7 1574.0 1881.2 1574.5 1881.5 1576.2 1881.6 2242.5 1891.0" stroke="#000" stroke-width="5" fill="none" stroke-linejoin="round" stroke-linecap="round"/>
</svg></body></html>
